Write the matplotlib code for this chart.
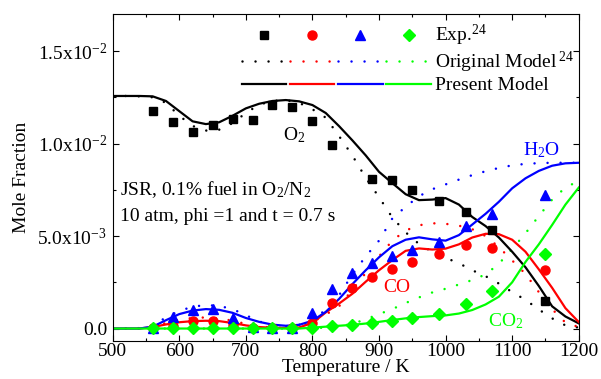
import numpy as np
import matplotlib
matplotlib.use("Agg")
import matplotlib.pyplot as plt
from matplotlib.lines import Line2D
from matplotlib.legend_handler import HandlerTuple
from matplotlib.ticker import MultipleLocator, FuncFormatter

plt.rcParams['font.family'] = ['Liberation Serif', 'DejaVu Serif']
plt.rcParams['mathtext.fontset'] = 'custom'
plt.rcParams['mathtext.rm'] = 'Liberation Serif'
plt.rcParams['mathtext.it'] = 'Liberation Serif:italic'

# experiments (mole fraction in units of 1e-3)
T_exp = [560, 590, 620, 650, 680, 710, 740, 770, 800, 830, 860, 890, 920, 950, 990, 1030, 1070, 1150]
o2_exp = [11.75, 11.15, 10.65, 10.99, 11.30, 11.25, 12.06, 12.00, 11.21, 9.92, np.nan, 8.06, 8.02, 7.49, 6.89, 6.28, 5.30, 1.49]
co_exp = [0.05, 0.15, 0.38, 0.38, 0.20, 0.05, 0.02, 0.02, 0.32, 1.37, 2.21, 2.77, 3.22, 3.58, 4.03, 4.52, 4.37, 3.19]
h2o_exp = [0.05, 0.62, 1.01, 1.05, 0.59, 0.10, 0.02, 0.02, 0.86, 2.16, 2.99, 3.53, 3.94, 4.25, 4.66, 5.53, 6.19, 7.22]
co2_exp = [0.03, 0.03, 0.03, 0.03, 0.03, 0.03, 0.03, 0.03, 0.03, 0.11, 0.18, 0.29, 0.43, 0.58, 0.81, 1.35, 2.04, 4.01]

# model curves, read every 20 K
T_mod = list(range(500, 1201, 20))
o2_new = [12.57, 12.57, 12.57, 12.55, 12.30, 11.75, 11.20, 11.05, 11.15, 11.50, 11.90, 12.15, 12.30, 12.35, 12.28, 12.08,
          11.65, 10.94, 10.17, 9.36, 8.47, 7.86, 7.26, 6.94, 6.97, 7.05, 6.70, 6.03, 5.54, 4.92, 4.15, 3.31, 2.30, 1.20,
          0.65, 0.28]
co_new = [0.0, 0.0, 0.0, 0.08, 0.22, 0.34, 0.40, 0.42, 0.40, 0.30, 0.17, 0.08, 0.04, 0.03, 0.06, 0.30,
          0.87, 1.35, 1.88, 2.53, 3.15, 3.70, 4.20, 4.33, 4.27, 4.32, 4.55, 4.92, 5.12, 5.10, 4.80, 4.15, 3.20, 2.20,
          1.10, 0.35]
h2o_new = [0.0, 0.0, 0.0, 0.10, 0.45, 0.78, 0.97, 1.05, 1.01, 0.85, 0.57, 0.36, 0.21, 0.15, 0.20, 0.42,
           0.90, 1.60, 2.40, 3.15, 3.85, 4.45, 4.80, 4.93, 4.82, 4.75, 5.05, 5.62, 6.20, 6.85, 7.58, 8.12, 8.52, 8.80,
           8.93, 8.96]
co2_new = [0.0, 0.0, 0.0, 0.0, 0.0, 0.0, 0.0, 0.0, 0.0, 0.0, 0.0, 0.0, 0.0, 0.0, 0.0, 0.05,
           0.10, 0.15, 0.20, 0.27, 0.36, 0.46, 0.55, 0.62, 0.67, 0.71, 0.81, 1.00, 1.30, 1.72, 2.50, 3.60, 4.55, 5.60,
           6.70, 7.62]
o2_old = [12.57, 12.57, 12.55, 12.50, 12.20, 11.50, 10.95, 10.70, 10.75, 11.10, 11.65, 12.10, 12.30, 12.35, 12.20, 11.85,
          11.40, 10.40, 9.35, 8.15, 7.10, 6.00, 5.20, 4.57, 4.15, 3.82, 3.53, 3.15, 2.83, 2.43, 1.97, 1.55, 1.03, 0.55,
          0.17, 0.05]
co_old = [0.0, 0.0, 0.02, 0.10, 0.30, 0.48, 0.57, 0.60, 0.55, 0.42, 0.25, 0.12, 0.05, 0.03, 0.10, 0.35,
          0.75, 1.20, 2.10, 3.00, 3.90, 4.75, 5.30, 5.58, 5.69, 5.66, 5.56, 5.37, 5.00, 4.40, 3.68, 2.95, 1.97, 1.05,
          0.32, 0.08]
h2o_old = [0.0, 0.0, 0.02, 0.15, 0.60, 0.95, 1.18, 1.27, 1.22, 1.05, 0.72, 0.38, 0.18, 0.12, 0.20, 0.50,
           1.00, 1.80, 2.92, 3.90, 4.75, 5.95, 6.58, 7.15, 7.53, 7.79, 8.05, 8.29, 8.50, 8.68, 8.82, 8.90, 8.94, 8.96,
           8.96, 8.96]
co2_old = [0.0, 0.0, 0.0, 0.0, 0.0, 0.0, 0.0, 0.0, 0.0, 0.0, 0.0, 0.0, 0.0, 0.0, 0.0, 0.02,
           0.05, 0.12, 0.25, 0.50, 0.78, 1.05, 1.38, 1.68, 1.95, 2.15, 2.38, 2.62, 2.92, 3.50, 4.30, 5.15, 6.08, 6.97,
           7.62, 7.98]

GREEN = '#00ff00'
colors = ['black', 'red', 'blue', GREEN]
markers = ['s', 'o', '^', 'D']
msizes = [6, 6.5, 7, 6]
dot = (0, (0.01, 5.2))
FS = 14

fig = plt.figure(figsize=(6.01, 3.79), dpi=100)
ax = fig.add_axes([0.1875, 0.099, 0.7755, 0.864])

olds = [o2_old, co_old, h2o_old, co2_old]
news = [o2_new, co_new, h2o_new, co2_new]
exps = [o2_exp, co_exp, h2o_exp, co2_exp]

for y, c in zip(olds, colors):
    ax.plot(T_mod, np.array(y) * 1e-3, color=c, lw=1.8, linestyle=dot, dash_capstyle='round')
for y, c in zip(news, colors):
    ax.plot(T_mod, np.array(y) * 1e-3, color=c, lw=1.6)
for y, c, m, s in zip(exps, colors, markers, msizes):
    ax.plot(T_exp, np.array(y) * 1e-3, color=c, marker=m, ms=s, linestyle='none')

ax.set_xlim(500, 1200)
ax.set_ylim(-0.0007, 0.017)
ax.xaxis.set_major_locator(MultipleLocator(100))
ax.xaxis.set_minor_locator(MultipleLocator(50))
ax.yaxis.set_major_locator(MultipleLocator(0.005))
ax.yaxis.set_minor_locator(MultipleLocator(0.0025))


def yfmt(v, pos):
    if abs(v) < 1e-9:
        return '0.0'
    e = int(np.floor(np.log10(abs(v))))
    return '%.1fx10$^{%d}$' % (v / 10 ** e, e)


ax.yaxis.set_major_formatter(FuncFormatter(yfmt))
ax.tick_params(which='both', direction='in', top=True, right=True, labelsize=FS, width=0.8)
ax.tick_params(which='major', length=4.5)
ax.tick_params(which='minor', length=2.5)
ax.tick_params(axis='x', pad=1)
ax.tick_params(axis='y', pad=4)
for sp in ax.spines.values():
    sp.set_linewidth(0.8)

ax.set_xlabel('Temperature / K', fontsize=FS, labelpad=-0.5)
ax.set_ylabel('Mole Fraction', fontsize=FS, labelpad=5)

ax.text(756, 0.01018, 'O$_2$', fontsize=FS, color='black')
ax.text(1116, 0.00937, 'H$_2$O', fontsize=FS, color='blue')
ax.text(906, 0.00198, 'CO', fontsize=FS, color='red')
ax.text(1064, 0.00012, 'CO$_2$', fontsize=FS, color=GREEN)
ax.text(511, 0.0072, 'JSR, 0.1% fuel in O$_2$/N$_2$', fontsize=FS)
ax.text(511, 0.00581, '10 atm, phi =1 and t = 0.7 s', fontsize=FS)

h_exp = tuple(Line2D([], [], color=c, marker=m, ms=s, linestyle='none')
              for c, m, s in zip(colors, markers, msizes))
h_old = tuple(Line2D([], [], color=c, lw=1.8, linestyle=dot, dash_capstyle='round') for c in colors)
h_new = tuple(Line2D([], [], color=c, lw=1.6) for c in colors)
ax.legend([h_exp, h_old, h_new], ['Exp.$^{24}$', 'Original Model$\\,^{24}$', 'Present Model'],
          handler_map={tuple: HandlerTuple(ndivide=None, pad=0.2)},
          loc='upper left', bbox_to_anchor=(0.2775, 0.972), borderaxespad=0, borderpad=0,
          frameon=False, fontsize=FS, handlelength=9.7, handletextpad=0.25, labelspacing=0.08,
          numpoints=1)

fig.savefig('out.png', dpi=100)
